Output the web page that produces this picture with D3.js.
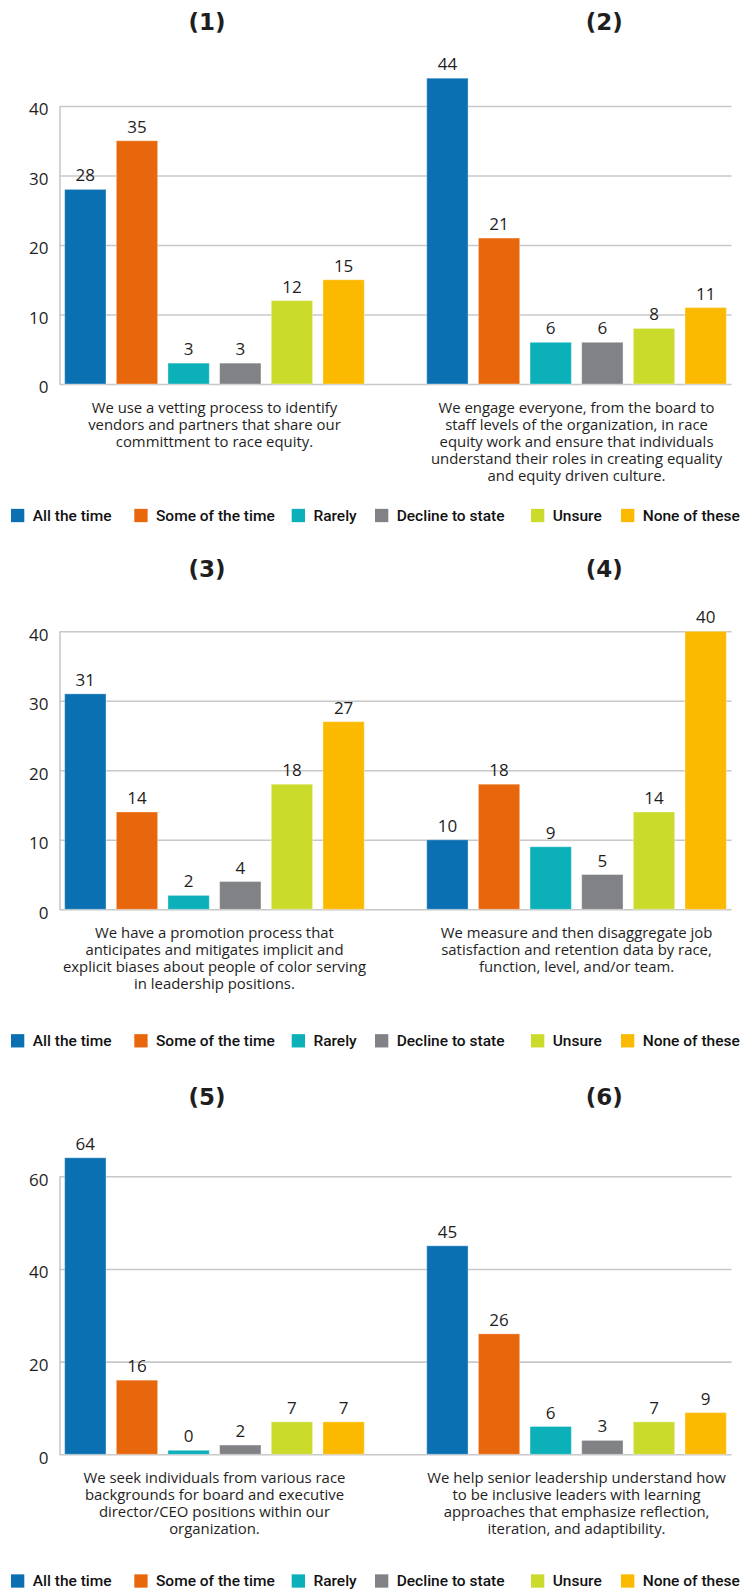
<!DOCTYPE html>
<html>
<head>
<meta charset="utf-8">
<script src="https://cdn.jsdelivr.net/npm/d3@7/dist/d3.min.js"></script>
<style>
  html, body { margin: 0; padding: 0; background: #ffffff; }
  svg { display: block; }
</style>
</head>
<body>
<svg id="chart" width="741" height="1592"></svg>
<script>
// ---------------- DATA ----------------
const categories = ["All the time", "Some of the time", "Rarely", "Decline to state", "Unsure", "None of these"];
const colors = ["#0b70b2", "#e9670c", "#0bb0b8", "#818285", "#cbdb2c", "#fbba00"];

const chartTitles = ["(1)", "(2)", "(3)", "(4)", "(5)", "(6)"];

const values1 = [28, 35, 3, 3, 12, 15];
const values2 = [44, 21, 6, 6, 8, 11];
const values3 = [31, 14, 2, 4, 18, 27];
const values4 = [10, 18, 9, 5, 14, 40];
const values5 = [64, 16, 0, 2, 7, 7];
const values6 = [45, 26, 6, 3, 7, 9];

const caption1 = ["We use a vetting process to identify", "vendors and partners that share our", "committment to race equity."];
const caption2 = ["We engage everyone, from the board to", "staff levels of the organization, in race", "equity work and ensure that individuals", "understand their roles in creating equality", "and equity driven culture."];
const caption3 = ["We have a promotion process that", "anticipates and mitigates implicit and", "explicit biases about people of color serving", "in leadership positions."];
const caption4 = ["We measure and then disaggregate job", "satisfaction and retention data by race,", "function, level, and/or team."];
const caption5 = ["We seek individuals from various race", "backgrounds for board and executive", "director/CEO positions within our", "organization."];
const caption6 = ["We help senior leadership understand how", "to be inclusive leaders with learning", "approaches that emphasize reflection,", "iteration, and adaptibility."];

const yTicksRow1 = [0, 10, 20, 30, 40];
const yTicksRow2 = [0, 10, 20, 30, 40];
const yTicksRow3 = [0, 20, 40, 60];

// ---------------- LAYOUT ----------------
const rows = [
  { charts: [{ title: chartTitles[0], values: values1, caption: caption1 }, { title: chartTitles[1], values: values2, caption: caption2 }], ticks: yTicksRow1, bottom: 384, titleY: 21.7 },
  { charts: [{ title: chartTitles[2], values: values3, caption: caption3 }, { title: chartTitles[3], values: values4, caption: caption4 }], ticks: yTicksRow2, bottom: 909.3, titleY: 569.3 },
  { charts: [{ title: chartTitles[4], values: values5, caption: caption5 }, { title: chartTitles[5], values: values6, caption: caption6 }], ticks: yTicksRow3, bottom: 1454.3, titleY: 1096.7 }
];

const W = 741, H = 1592;
const plotLeft = 59.5, plotRight = 731.5, plotHeight = 278;
const titleX = [207, 604.3];
const legendX = [11, 134.3, 291.7, 375, 531, 621];
const legendSize = 13.3;
const gridColor = "#c8c8c8";
const textColor = "#1e1e1e";

const svg = d3.select("#chart");

const x0 = d3.scaleBand().domain([0, 1]).range([plotLeft, plotRight]).paddingInner(0.144).paddingOuter(0);
const x1 = d3.scaleBand().domain(categories).range([0, x0.bandwidth()]).paddingInner(0.2).paddingOuter(0.1);
const color = d3.scaleOrdinal().domain(categories).range(colors);

rows.forEach((row) => {
  const maxTick = d3.max(row.ticks);
  const y = d3.scaleLinear().domain([0, maxTick]).range([row.bottom, row.bottom - plotHeight]);
  const g = svg.append("g");

  // gridlines
  const grid = g.append("g")
    .attr("transform", `translate(${plotLeft},0)`)
    .call(d3.axisLeft(y).tickValues(row.ticks).tickSize(-(plotRight - plotLeft)).tickFormat(""));
  grid.select(".domain").remove();
  grid.selectAll(".tick line").attr("stroke", gridColor).attr("stroke-width", 1.6);

  // y axis
  const yAxis = g.append("g")
    .attr("transform", `translate(${plotLeft},0)`)
    .call(d3.axisLeft(y).tickValues(row.ticks).tickSize(0).tickSizeOuter(0).tickPadding(11));
  yAxis.select(".domain").attr("stroke", gridColor).attr("stroke-width", 1.6);
  yAxis.selectAll(".tick text")
    .attr("fill", textColor)
    .attr("font-family", "'Open Sans', sans-serif")
    .attr("font-size", 17)
    .attr("y", 3.5);

  row.charts.forEach((chart, ci) => {
    const gx = x0(ci);
    const cg = g.append("g").attr("transform", `translate(${gx},0)`);
    const data = categories.map((c, i) => ({ cat: c, value: chart.values[i] }));

    cg.selectAll("rect.bar").data(data).join("rect")
      .attr("class", "bar")
      .attr("x", d => x1(d.cat))
      .attr("width", x1.bandwidth())
      .attr("y", d => Math.min(y(d.value), y(0) - 4))
      .attr("height", d => Math.max(y(0) - y(d.value), 4))
      .attr("fill", d => color(d.cat))
      .attr("stroke", "rgba(255,255,255,0.35)")
      .attr("stroke-width", 1);

    cg.selectAll("text.val").data(data).join("text")
      .attr("class", "val")
      .attr("x", d => x1(d.cat) + x1.bandwidth() / 2)
      .attr("y", d => Math.min(y(d.value), y(0) - 4) - 8)
      .attr("text-anchor", "middle")
      .attr("fill", textColor)
      .attr("font-family", "'Open Sans', sans-serif")
      .attr("font-size", 17)
      .text(d => d.value);

    // title
    svg.append("text")
      .attr("x", titleX[ci])
      .attr("y", row.titleY)
      .attr("dy", "0.35em")
      .attr("text-anchor", "middle")
      .attr("fill", textColor)
      .attr("font-family", "'DejaVu Sans', sans-serif")
      .attr("font-weight", "bold")
      .attr("font-size", 23)
      .text(chart.title);

    // caption
    const cx = gx + x0.bandwidth() / 2;
    svg.append("g").selectAll("text").data(chart.caption).join("text")
      .attr("x", cx)
      .attr("y", (d, i) => row.bottom + 23.7 + i * 17)
      .attr("dy", "0.35em")
      .attr("text-anchor", "middle")
      .attr("fill", textColor)
      .attr("font-family", "'Open Sans', sans-serif")
      .attr("font-size", 14.9)
      .text(d => d);
  });

  // legend (kept fully inside the page)
  const ly = Math.min(row.bottom + 131.5, H - 11);
  const lg = svg.append("g");
  const items = lg.selectAll("g").data(categories).join("g")
    .attr("transform", (d, i) => `translate(${legendX[i]},${ly})`);
  items.append("rect")
    .attr("x", 0).attr("y", -legendSize / 2)
    .attr("width", legendSize).attr("height", legendSize)
    .attr("fill", d => color(d));
  items.append("text")
    .attr("x", 21.7).attr("y", 0).attr("dy", "0.35em")
    .attr("fill", "#111111")
    .attr("font-family", "Roboto, sans-serif")
    .attr("font-weight", 500)
    .attr("font-size", 15.5)
    .text(d => d);
});
</script>
</body>
</html>
